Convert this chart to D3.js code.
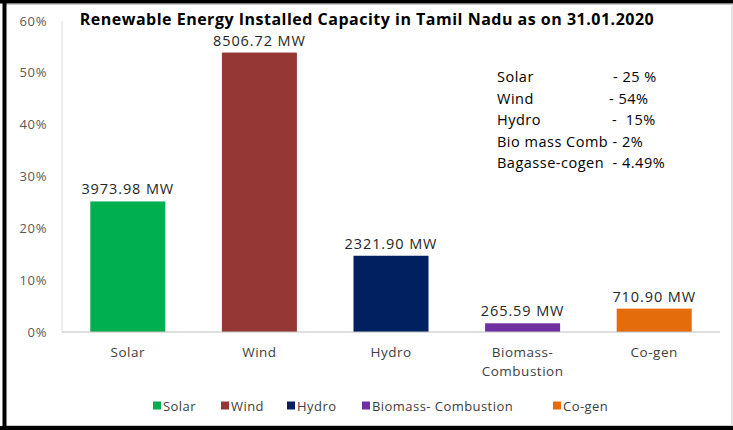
<!DOCTYPE html>
<html>
<head>
<meta charset="utf-8">
<script src="https://cdn.jsdelivr.net/npm/d3@7"></script>
<style>
  body { margin: 0; background: #fff; }
  text { font-family: "Open Sans", sans-serif; }
</style>
</head>
<body>
<script>
//Chart data
var categories = ["Solar", "Wind", "Hydro", "Biomass- Combustion", "Co-gen"];
var axisLabels = [["Solar"], ["Wind"], ["Hydro"], ["Biomass-", "Combustion"], ["Co-gen"]];
var shares = [25.19, 53.91, 14.71, 1.68, 4.51];   //percent of total
var capacityMW = ["3973.98 MW", "8506.72 MW", "2321.90 MW", "265.59 MW", "710.90 MW"];
var colors = ["#00b050", "#953735", "#002060", "#7030a0", "#e46c0a"];
var yTicks = [0, 10, 20, 30, 40, 50, 60];
var noteNames = ["Solar", "Wind", "Hydro", "Bio mass Comb", "Bagasse-cogen"];
var noteValues = ["- 25 %", "- 54%", "-  15%", "- 2%", "- 4.49%"];

var w = 733, h = 430;
var x0 = 62, x1 = 720, yBase = 332, yTop = 21;

var svg = d3.select("body").append("svg")
  .attr("width", w).attr("height", h);

//Frame
svg.append("rect").attr("x", 0).attr("y", 0).attr("width", w).attr("height", h).attr("fill", "#fff");
svg.append("rect").attr("x", 5).attr("y", 4.5).attr("width", 727).attr("height", 421)
  .attr("fill", "none").attr("stroke", "#c8c8c8");
svg.append("rect").attr("x", 0).attr("y", 0).attr("width", w).attr("height", 3.5).attr("fill", "#000");
svg.append("rect").attr("x", 2.5).attr("y", 0).attr("width", 4).attr("height", h).attr("fill", "#000");
svg.append("rect").attr("x", 0).attr("y", 426).attr("width", w).attr("height", 4).attr("fill", "#000");

//Scales
var xScale = d3.scaleBand().domain(categories).range([x0, x1]).paddingInner(0.43).paddingOuter(0.215);
var yScale = d3.scaleLinear().domain([0, 60]).range([yBase, yTop]);

//Y axis
svg.append("line").attr("x1", x0).attr("x2", x0).attr("y1", yTop).attr("y2", yBase)
  .attr("stroke", "#d9d9d9");
svg.selectAll(".ytick").data(yTicks).enter().append("text")
  .attr("x", 47).attr("y", function(d) { return yScale(d) + 4.5; })
  .attr("text-anchor", "end").attr("font-size", 13).attr("letter-spacing", 0.6)
  .attr("fill", "#595959")
  .text(function(d) { return d + "%"; });

//Bars
svg.selectAll(".bar").data(shares).enter().append("rect")
  .attr("x", function(d, i) { return xScale(categories[i]); })
  .attr("y", function(d) { return yScale(d); })
  .attr("width", xScale.bandwidth())
  .attr("height", function(d) { return yBase - yScale(d); })
  .attr("fill", function(d, i) { return colors[i]; });

//Baseline
svg.append("line").attr("x1", x0).attr("x2", x1).attr("y1", yBase).attr("y2", yBase)
  .attr("stroke", "#bfbfbf");

//Value labels
svg.selectAll(".val").data(shares).enter().append("text")
  .attr("x", function(d, i) { return xScale(categories[i]) + xScale.bandwidth() / 2; })
  .attr("y", function(d) { return yScale(d) - 7; })
  .attr("text-anchor", "middle").attr("font-size", 14.5).attr("letter-spacing", 0.9)
  .attr("fill", "#262626")
  .text(function(d, i) { return capacityMW[i]; });

//Category labels
axisLabels.forEach(function(lines, i) {
  var t = svg.append("text")
    .attr("text-anchor", "middle").attr("font-size", 13.5).attr("letter-spacing", 0.5)
    .attr("fill", "#404040");
  lines.forEach(function(s, j) {
    t.append("tspan")
      .attr("x", xScale(categories[i]) + xScale.bandwidth() / 2)
      .attr("y", yBase + 25 + j * 19)
      .text(s);
  });
});

//Title
svg.append("text").attr("x", 367).attr("y", 25)
  .attr("text-anchor", "middle").attr("font-size", 16).attr("font-weight", "bold")
  .attr("letter-spacing", 0.5).attr("fill", "#000")
  .text("Renewable Energy Installed Capacity in Tamil Nadu as on 31.01.2020");

//Note box
var note = svg.append("g").attr("font-size", 14.5).attr("letter-spacing", 0.5).attr("fill", "#000");
noteNames.forEach(function(s, i) {
  var t = note.append("text").attr("x", 497).attr("y", 82 + i * 21.5)
    .style("white-space", "pre");
  if (i < 3) {
    t.text(s);
    note.append("text").attr("x", [613, 609, 612][i]).attr("y", 82 + i * 21.5)
      .style("white-space", "pre").text(noteValues[i]);
  } else {
    t.text(s + (i === 3 ? " " : "  ") + noteValues[i]);
  }
});

//Legend
var legendX = [153, 221, 287, 362, 553];
var legend = svg.selectAll(".leg").data(categories).enter().append("g")
  .attr("transform", function(d, i) { return "translate(" + legendX[i] + ",406)"; });
legend.append("rect").attr("x", 0).attr("y", -4.5).attr("width", 8).attr("height", 8)
  .attr("fill", function(d, i) { return colors[i]; });
legend.append("text").attr("x", 10).attr("y", 4.5)
  .attr("font-size", 13).attr("letter-spacing", 0.45).attr("fill", "#404040")
  .text(function(d) { return d; });
</script>
</body>
</html>
